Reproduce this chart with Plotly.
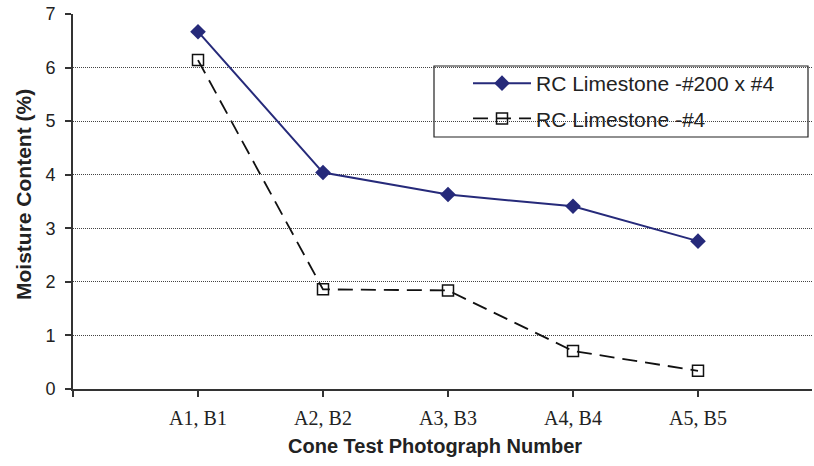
import plotly.graph_objects as go

# Photograph labels along the x axis
categories = ["A1, B1", "A2, B2", "A3, B3", "A4, B4", "A5, B5"]

# Moisture content (%) for each sample series
limestone_200x4 = [6.67, 4.04, 3.63, 3.41, 2.76]
limestone_4 = [6.14, 1.86, 1.84, 0.71, 0.34]

y_ticks = [0, 1, 2, 3, 4, 5, 6, 7]

x_title = "Cone Test Photograph Number"
y_title = "Moisture Content (%)"

positions = list(range(1, len(categories) + 1))

fig = go.Figure()

fig.add_trace(go.Scatter(
    x=positions, y=limestone_200x4, mode="lines+markers",
    name="RC Limestone -#200 x #4", legendgroup="a",
    line=dict(color="#262a7a", width=2),
    marker=dict(symbol="diamond", size=12, color="#262a7a"),
))
fig.add_trace(go.Scatter(
    x=positions, y=limestone_4, mode="lines+markers",
    name="RC Limestone -#4", legendgroup="b",
    line=dict(color="#111111", width=1.8, dash="15px,8px"),
    marker=dict(symbol="square-open", size=11, color="#111111",
                line=dict(width=1.5)),
))

sans = "Liberation Sans, Arial"
title_font = dict(family=sans, size=20, color="#222")

# plot area spans x 73..812 px and y 14..389 px
def px_x(p):
    return (p - 73) / 739

def px_y(p):
    return (389 - p) / 375

fig.update_layout(
    width=814, height=466,
    margin=dict(l=73, r=2, t=14, b=77),
    paper_bgcolor="white", plot_bgcolor="white",
    showlegend=True,
    legend=dict(
        x=px_x(468), y=px_y(63), xanchor="left", yanchor="top",
        bgcolor="rgba(0,0,0,0)", borderwidth=0,
        font=dict(family=sans, size=21, color="#222"),
        tracegroupgap=5, itemwidth=58, traceorder="grouped",
    ),
    shapes=[dict(
        type="rect", xref="paper", yref="paper",
        x0=px_x(434), x1=px_x(808), y0=px_y(137), y1=px_y(66),
        line=dict(color="#222", width=1.2), fillcolor="white", layer="below",
    )],
    annotations=[
        dict(text=f"<b>{x_title}</b>", xref="paper", yref="paper",
             x=px_x(435), y=px_y(446), xanchor="center", yanchor="middle",
             showarrow=False, font=title_font),
        dict(text=f"<b>{y_title}</b>", xref="paper", yref="paper",
             x=px_x(23), y=px_y(195), xanchor="center", yanchor="middle",
             textangle=-90, showarrow=False,
             font=dict(family=sans, size=21, color="#222")),
    ],
)

fig.update_xaxes(
    range=[0, 5.912], tickvals=[0] + positions, ticktext=[""] + categories,
    showgrid=False, zeroline=False,
    showline=True, linecolor="#333", linewidth=2,
    ticks="outside", ticklen=6, tickcolor="#333", tickwidth=1.5,
    tickfont=dict(family="Liberation Serif, DejaVu Serif", size=20, color="#222"),
    ticklabelstandoff=4,
)
fig.update_yaxes(
    range=[0, 7], tickvals=y_ticks,
    showgrid=True, gridcolor="#444", gridwidth=1, griddash="1px,1px",
    zeroline=False,
    showline=True, linecolor="#333", linewidth=2,
    ticks="outside", ticklen=6, tickcolor="#333", tickwidth=1.5,
    tickfont=dict(family=sans, size=18, color="#222"), ticklabelstandoff=6,
)

fig.write_html("out.html")
